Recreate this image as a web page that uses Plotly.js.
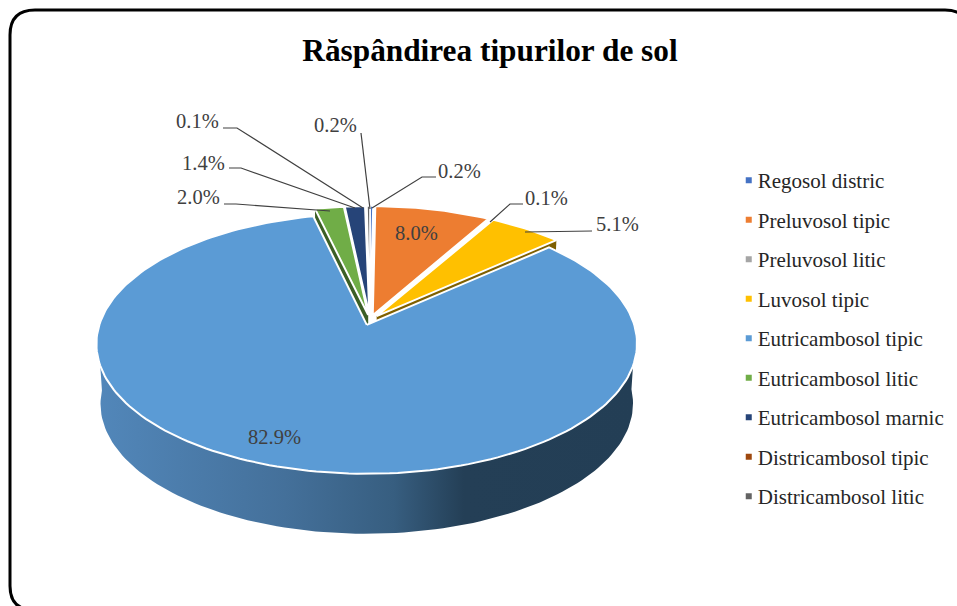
<!DOCTYPE html>
<html><head><meta charset="utf-8">
<script src="https://cdn.plot.ly/plotly-3.0.1.min.js"></script>
<style>html,body{margin:0;padding:0;background:#fff}
#c{width:957px;height:606px}
.legend .legendpoints{transform:translateX(11px)}
</style></head><body><div id="c"></div>
<script>
var soilTypes=["Regosol distric","Preluvosol tipic","Preluvosol litic","Luvosol tipic","Eutricambosol tipic","Eutricambosol litic","Eutricambosol marnic","Districambosol tipic","Districambosol litic"];
var soilShare=[0.2,8.0,0.1,5.1,82.9,2.0,1.4,0.1,0.2];
var soilColors=["#4472C4","#ED7D31","#A5A5A5","#FFC000","#5B9BD5","#70AD47","#264478","#9E480E","#636363"];
var chartTitle="Răspândirea tipurilor de sol";

// view of the tilted disc
var view={cx:370,cy:320,A:266,B:126,k:0.144,pull:0.04,depth:60,baseScale:0.985};
function project(X,Z,lowered){
  var w=1+view.k*Z, s=lowered?view.baseScale:1;
  return [view.cx+s*view.A*X/w, view.cy-view.B*Z/w+(lowered?view.depth:0)];
}
function rad(d){return d*Math.PI/180;}
var slices=[],cum=0;
soilShare.forEach(function(v,i){
  var a0=cum/100*360,a1=(cum+v)/100*360;cum+=v;
  var m=rad((a0+a1)/2);
  slices.push({a0:a0,a1:a1,ox:view.pull*Math.sin(m),oz:view.pull*Math.cos(m),i:i});
});
function rim(s,a){return [s.ox+Math.sin(rad(a)),s.oz+Math.cos(rad(a))];}
function poly(pts){return {x:pts.map(function(p){return p[0];}),y:pts.map(function(p){return p[1];})};}
function topFace(s){
  var pts=[project(s.ox,s.oz,false)],n=Math.max(2,Math.ceil((s.a1-s.a0)/1.5));
  for(var j=0;j<=n;j++){var r=rim(s,s.a0+(s.a1-s.a0)*j/n);pts.push(project(r[0],r[1],false));}
  pts.push(pts[0]);return poly(pts);
}
function cutWall(s,a){
  var r=rim(s,a);
  return poly([project(r[0],r[1],false),project(s.ox,s.oz,false),project(s.ox,s.oz,true),project(r[0],r[1],true),project(r[0],r[1],false)]);
}
function sideWall(s,a0,a1){
  var up=[],dn=[];
  for(var a=a0;a<=a1;a+=1.5){var r=rim(s,a);up.push(project(r[0],r[1],false));dn.unshift(project(r[0],r[1],true));}
  var pts=up.concat(dn);pts.push(up[0]);return poly(pts);
}
var traces=[];
function add(o,extra){
  var t={x:o.x,y:o.y,type:"scatter",mode:"lines",fill:"toself",line:{width:0},showlegend:false,hoverinfo:"skip"};
  for(var k in extra)t[k]=extra[k];traces.push(t);
}
var big=slices[4];
add(cutWall(slices[3],slices[3].a1),{fillcolor:"#7F6000"});
add(cutWall(slices[5],slices[5].a0),{fillcolor:"#3C5F26"});
add(sideWall(big,92,268),{fillcolor:"#5B9BD5",fillgradient:{type:"horizontal",
  colorscale:[[0,"#5287BA"],[0.35,"#44709A"],[0.55,"#375E80"],[0.68,"#243F56"],[1,"#233E55"]]}});
slices.forEach(function(s){
  var w=soilShare[s.i]<0.5?1.5:2;
  add(topFace(s),{fillcolor:soilColors[s.i],line:{width:w,color:"#fff"},name:soilTypes[s.i]});
});
soilTypes.forEach(function(n,i){
  traces.push({x:[null],y:[null],type:"scatter",mode:"markers",name:n,legendgroup:"g"+i,
    marker:{symbol:"square",size:6,color:soilColors[i]},hoverinfo:"skip"});
});
function pct(v){return v.toFixed(1)+"%";}
var labelAt=[[459,171],[416,233],[546,198],[617,224],[274,437],[198,197],[203,163],[197,121],[335,125]];
var leaders=[
 "M372,208L422,177L436,177",null,"M490,222L510,204L523,204","M525,232L592,231",null,
 "M224,204L236,204L330,211","M229,168L241,168L355,208","M223,128L237,128L363,208","M361,133L370,209"];
var annotations=soilShare.map(function(v,i){
  return {text:pct(v),x:labelAt[i][0],y:labelAt[i][1],xref:"x",yref:"y",showarrow:false,
    font:{family:"Liberation Serif",size:20.5,color:"#404040"}};
});
var shapes=leaders.filter(Boolean).map(function(p){
  return {type:"path",path:p,xref:"x",yref:"y",line:{color:"#404040",width:1.2}};
});
shapes.push({type:"path",xref:"x",yref:"y",layer:"below",line:{color:"#000",width:3},
  path:"M35,10L945,10Q969,10 969,34L969,586Q969,610 945,610L34,610Q10,610 10,586L10,35Q10,10 35,10Z"});
var layout={width:957,height:606,margin:{l:0,r:0,t:0,b:0},paper_bgcolor:"#fff",plot_bgcolor:"#fff",
  title:{text:"<b>"+chartTitle+"</b>",x:0.512,xanchor:"center",y:0.918,yanchor:"middle",font:{family:"Liberation Serif",size:31.3,color:"#000"}},
  xaxis:{range:[0,957],visible:false,fixedrange:true},
  yaxis:{range:[606,0],visible:false,fixedrange:true},
  annotations:annotations,shapes:shapes,showlegend:true,
  legend:{x:0.75,y:0.736,xanchor:"left",yanchor:"top",bgcolor:"rgba(0,0,0,0)",tracegroupgap:9.2,
    font:{family:"Liberation Serif",size:21,color:"#262626"}}};
Plotly.newPlot("c",traces,layout,{displayModeBar:false,staticPlot:true});
</script></body></html>
